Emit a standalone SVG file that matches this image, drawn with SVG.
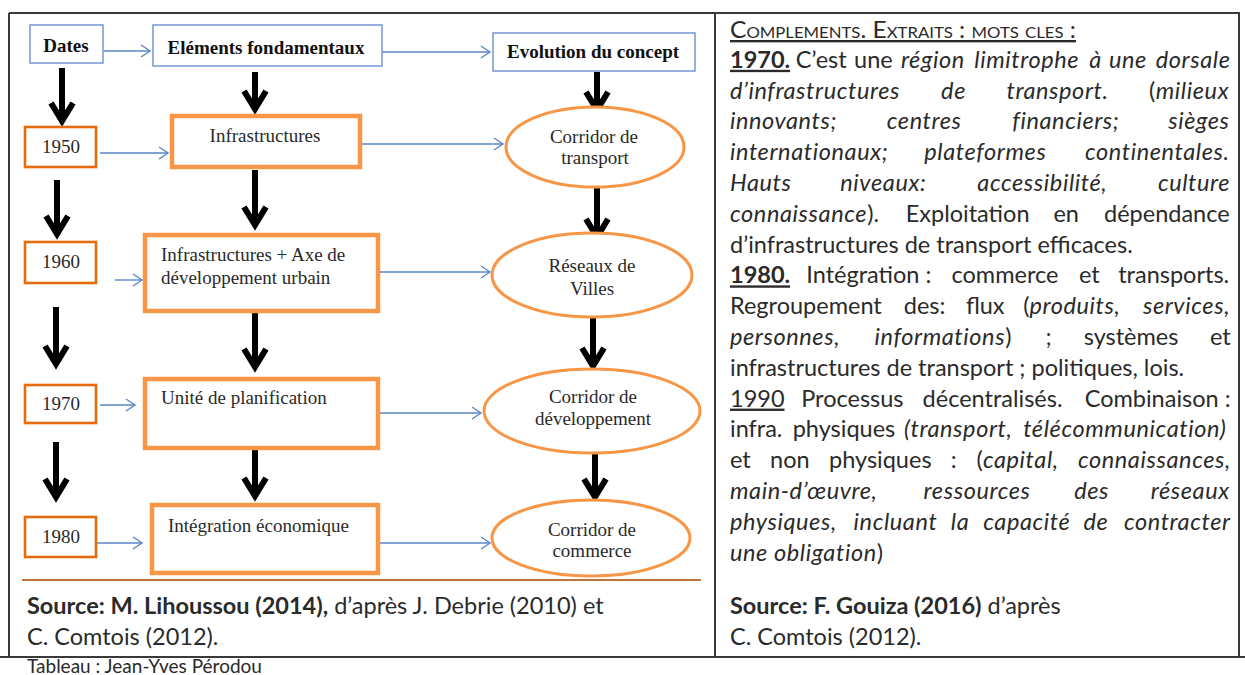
<svg xmlns="http://www.w3.org/2000/svg" width="1245" height="675" viewBox="0 0 1245 675">
<defs>
<style>
.frame{stroke:#3a3a3a;stroke-width:2;fill:none}
.bbox{fill:#fff;stroke:#7d9dd6;stroke-width:1.6}
.dbox{fill:#fff;stroke:#e46c0a;stroke-width:2.6}
.obox{fill:#fff;stroke:#f79646;stroke-width:4.5}
.ell{fill:#fff;stroke:#f79646;stroke-width:3}
.blue{stroke:#5b86c9;stroke-width:1.4;fill:none;marker-end:url(#ba)}
.black{stroke:#000;stroke-width:6;fill:none;marker-end:url(#ka)}
.sf{font-family:"Liberation Serif","Times New Roman",serif;font-size:19px;fill:#2a2a2a}
.sb{font-weight:bold;fill:#111}
.mid{text-anchor:middle}
.t{font-family:Lato,"Liberation Sans",Arial,sans-serif;font-size:23.5px;fill:#2a2a2a}
.i{font-style:italic;letter-spacing:0.6px}
.b{font-weight:bold}
.u{text-decoration:underline}
</style>
<marker id="ba" markerUnits="userSpaceOnUse" viewBox="0 0 12 14" markerWidth="12" markerHeight="14" refX="10" refY="7" orient="auto" overflow="visible">
<path d="M1,1 L10,7 L1,13" fill="none" stroke="#5b86c9" stroke-width="1.4"/>
</marker>
<marker id="ka" markerUnits="userSpaceOnUse" viewBox="-24 -16 34 32" markerWidth="34" markerHeight="32" refX="-1" refY="0" orient="auto" overflow="visible">
<path d="M-18,-11 L0,0 L-18,11" fill="none" stroke="#000" stroke-width="6"/>
</marker>
</defs>
<rect width="1245" height="675" fill="#fff"/>

<g id="table-frame">
<line class="frame" x1="9" y1="13" x2="1240" y2="13"/>
<line class="frame" x1="9" y1="13" x2="9" y2="657"/>
<line class="frame" x1="715" y1="13" x2="715" y2="657"/>
<line class="frame" x1="1239" y1="13" x2="1239" y2="657"/>
<line class="frame" x1="0" y1="657" x2="1245" y2="657"/>
<line x1="22" y1="580" x2="701" y2="580" stroke="#c0743a" stroke-width="2"/>
</g>

<g id="connectors">
<line class="blue" x1="103" y1="51" x2="150" y2="51"/>
<line class="blue" x1="382" y1="52" x2="490" y2="52"/>
<line class="blue" x1="100" y1="153" x2="168" y2="153"/>
<line class="blue" x1="362" y1="144" x2="503" y2="144"/>
<line class="blue" x1="115" y1="280" x2="142" y2="280"/>
<line class="blue" x1="380" y1="272" x2="490" y2="272"/>
<line class="blue" x1="100" y1="405" x2="135" y2="405"/>
<line class="blue" x1="380" y1="413" x2="481" y2="413"/>
<line class="blue" x1="93" y1="543" x2="142" y2="543"/>
<line class="blue" x1="380" y1="543" x2="490" y2="543"/>
<line class="black" x1="62" y1="68" x2="62" y2="120"/>
<line class="black" x1="57" y1="180" x2="57" y2="233"/>
<line class="black" x1="56" y1="307" x2="56" y2="363"/>
<line class="black" x1="56" y1="442" x2="56" y2="496"/>
<line class="black" x1="255" y1="72" x2="255" y2="108"/>
<line class="black" x1="255" y1="170" x2="255" y2="224"/>
<line class="black" x1="255" y1="313" x2="255" y2="366"/>
<line class="black" x1="255" y1="450" x2="255" y2="495"/>
<line class="black" x1="597" y1="72" x2="597" y2="109"/>
<line class="black" x1="597" y1="187" x2="597" y2="236"/>
<line class="black" x1="593" y1="318" x2="593" y2="365"/>
<line class="black" x1="595" y1="453" x2="595" y2="496"/>
</g>

<g id="n-dates"><rect class="bbox" x="30" y="25" width="73" height="38"/><text class="sf sb mid" x="66" y="52">Dates</text></g>
<g id="n-elements"><rect class="bbox" x="153" y="25" width="229" height="41"/><text class="sf sb mid" x="266" y="54">Eléments fondamentaux</text></g>
<g id="n-evolution"><rect class="bbox" x="493" y="33" width="202" height="38"/><text class="sf sb mid" x="593" y="58">Evolution du concept</text></g>

<g id="n-1950"><rect class="dbox" x="25" y="127" width="71" height="40"/><text class="sf mid" x="61" y="153">1950</text></g>
<g id="n-1960"><rect class="dbox" x="25" y="242" width="71" height="41"/><text class="sf mid" x="61" y="268">1960</text></g>
<g id="n-1970"><rect class="dbox" x="25" y="385" width="71" height="38"/><text class="sf mid" x="61" y="410">1970</text></g>
<g id="n-1980"><rect class="dbox" x="25" y="517" width="71" height="40"/><text class="sf mid" x="61" y="543">1980</text></g>

<g id="n-infra"><rect class="obox" x="172" y="116" width="188" height="51"/><text class="sf mid" x="265" y="142">Infrastructures</text></g>
<g id="n-axe"><rect class="obox" x="145" y="235" width="233" height="76"/><text class="sf" x="161" y="261">Infrastructures + Axe de</text><text class="sf" x="161" y="284">développement urbain</text></g>
<g id="n-planif"><rect class="obox" x="145" y="379" width="233" height="69"/><text class="sf" x="161" y="404">Unité de planification</text></g>
<g id="n-integration"><rect class="obox" x="152" y="505" width="226" height="68"/><text class="sf" x="168" y="532">Intégration économique</text></g>

<g id="n-corridor-transport"><ellipse class="ell" cx="595" cy="147" rx="89" ry="40"/><text class="sf mid" x="594" y="143">Corridor de</text><text class="sf mid" x="595" y="164">transport</text></g>
<g id="n-reseaux"><ellipse class="ell" cx="592" cy="275" rx="100" ry="42"/><text class="sf mid" x="592" y="272">Réseaux de</text><text class="sf mid" x="592" y="295">Villes</text></g>
<g id="n-corridor-dev"><ellipse class="ell" cx="592" cy="411" rx="108" ry="42"/><text class="sf mid" x="593" y="403">Corridor de</text><text class="sf mid" x="593" y="425">développement</text></g>
<g id="n-corridor-commerce"><ellipse class="ell" cx="591" cy="538" rx="99" ry="38"/><text class="sf mid" x="592" y="536">Corridor de</text><text class="sf mid" x="592" y="557">commerce</text></g>

<g id="source-left">
<text class="t" x="27" y="614"><tspan class="b">Source: M. Lihoussou (2014),</tspan> d’après J. Debrie (2010) et</text>
<text class="t" x="27" y="645">C. Comtois (2012).</text>
</g>

<g id="complements">
<text class="t u" x="730" y="38" style="font-variant:small-caps" textLength="346" lengthAdjust="spacingAndGlyphs">Complements. Extraits : mots cles :</text>
<text class="t" y="67.8"><tspan class="b u" x="730">1970.</tspan><tspan x="795.7">C’est</tspan><tspan x="854.1">une</tspan><tspan class="i" x="900.9">région</tspan><tspan class="i" x="974.3">limitrophe</tspan><tspan class="i" x="1089.3">à</tspan><tspan class="i" x="1109">une</tspan><tspan class="i" x="1155.8">dorsale</tspan></text>
<text class="t i" y="98.6"><tspan x="730">d’infrastructures</tspan><tspan x="941.1">de</tspan><tspan x="1006.5">transport.</tspan><tspan x="1148.9" style="font-style:normal">(</tspan><tspan>milieux</tspan></text>
<text class="t i" y="129.4"><tspan x="730">innovants;</tspan><tspan x="886.8">centres</tspan><tspan x="1012.3">financiers;</tspan><tspan x="1168.2">sièges</tspan></text>
<text class="t i" y="160.2"><tspan x="730">internationaux;</tspan><tspan x="924.3">plateformes</tspan><tspan x="1085">continentales.</tspan></text>
<text class="t i" y="191"><tspan x="730">Hauts</tspan><tspan x="840.3">niveaux:</tspan><tspan x="977.3">accessibilité,</tspan><tspan x="1157.9">culture</tspan></text>
<text class="t" y="221.8"><tspan class="i" x="730">connaissance</tspan><tspan>).</tspan><tspan x="905.7">Exploitation</tspan><tspan x="1053.4">en</tspan><tspan x="1104">dépendance</tspan></text>
<text class="t" x="730" y="252.6">d’infrastructures de transport efficaces.</text>
<text class="t" y="283.4"><tspan class="b u" x="730">1980.</tspan><tspan x="806.3">Intégration :</tspan><tspan x="951.5">commerce</tspan><tspan x="1078.9">et</tspan><tspan x="1118.2">transports.</tspan></text>
<text class="t" y="314.2"><tspan x="730">Regroupement</tspan><tspan x="903.8">des:</tspan><tspan x="965.9">flux</tspan><tspan x="1023.2">(</tspan><tspan class="i">produits,</tspan><tspan class="i" x="1142.9">services,</tspan></text>
<text class="t" y="345"><tspan class="i" x="730">personnes,</tspan><tspan class="i" x="874.6">informations</tspan><tspan>)</tspan><tspan x="1045.6">;</tspan><tspan x="1083.7">systèmes</tspan><tspan x="1209.9">et</tspan></text>
<text class="t" x="730" y="375.8">infrastructures de transport ; politiques, lois.</text>
<text class="t" y="406.6"><tspan class="u" x="730">1990</tspan><tspan x="801.2">Processus</tspan><tspan x="922.6">décentralisés.</tspan><tspan x="1084.7">Combinaison :</tspan></text>
<text class="t" y="437.4"><tspan x="730">infra.</tspan><tspan x="792.7">physiques</tspan><tspan class="i" x="904.1">(transport,</tspan><tspan class="i" x="1023.2">télécommunication)</tspan></text>
<text class="t" y="468.2"><tspan x="730">et</tspan><tspan x="770.1">non</tspan><tspan x="829">physiques</tspan><tspan x="950.8">:</tspan><tspan x="976.6">(</tspan><tspan class="i">capital,</tspan><tspan class="i" x="1077.9">connaissances,</tspan></text>
<text class="t i" y="499"><tspan x="730">main-d’œuvre,</tspan><tspan x="923.6">ressources</tspan><tspan x="1074.2">des</tspan><tspan x="1150.7">réseaux</tspan></text>
<text class="t i" y="529.8"><tspan x="730">physiques,</tspan><tspan x="853.6">incluant</tspan><tspan x="950.8">la</tspan><tspan x="983.2">capacité</tspan><tspan x="1083.5">de</tspan><tspan x="1123.9">contracter</tspan></text>
<text class="t" y="560.6"><tspan class="i" x="730">une obligation</tspan><tspan>)</tspan></text>
</g>

<g id="source-right">
<text class="t" x="730" y="614"><tspan class="b">Source: F. Gouiza (2016)</tspan> d’après</text>
<text class="t" x="730" y="645">C. Comtois (2012).</text>
</g>

<text class="t" x="27" y="673" style="font-size:19px">Tableau : Jean-Yves Pérodou</text>
</svg>
